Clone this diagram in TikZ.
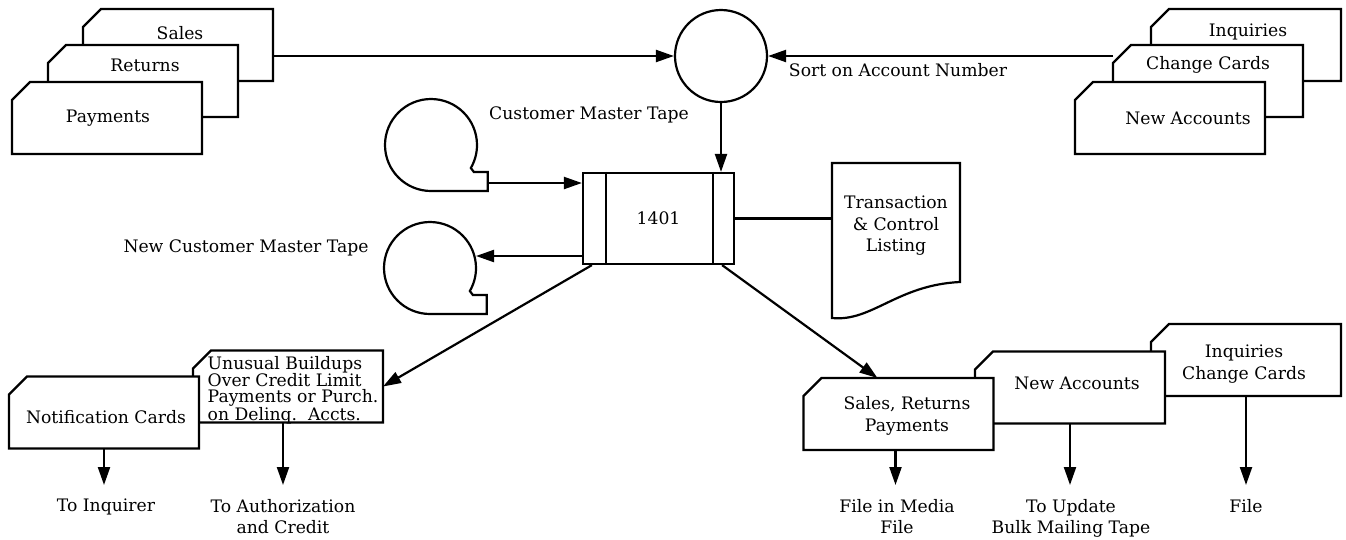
\documentclass[tikz,border=0pt]{standalone}
\usepackage{fontspec}
\setmainfont{DejaVu Serif}
\usetikzlibrary{arrows.meta}

\tikzset{
  flow/.style={-{Triangle[length=18pt,width=12pt]}},
  card/.style={minimum width=190pt, minimum height=72pt, inner sep=0pt, outer sep=0pt},
  tape/.style={circle, minimum size=92pt, inner sep=0pt, outer sep=0pt},
  lbl/.style={align=center, inner sep=1pt},
}
% punched card outline, cut at the upper left corner
\newcommand{\cardline}[1]{%
  \filldraw[fill=white] (#1.south west) -- ([yshift=-18pt]#1.north west)
    -- ([xshift=18pt]#1.north west) -- (#1.north east) -- (#1.south east) -- cycle;}

\begin{document}
\begin{tikzpicture}[x=1pt, y=-1pt, line width=2.2pt, font=\fontsize{17.2}{21.5}\selectfont]
  \useasboundingbox (0,0) rectangle (1346,539);

  % input cards
  \node[card] (sal) at (178,45) {}; \cardline{sal}
  \node[lbl] (salt) at (180,33) {Sales};
  \node[card] (ret) at (143,81) {}; \cardline{ret}
  \node[lbl] (rett) at (145,65) {Returns};
  \node[card] (pay) at (107,118) {}; \cardline{pay}
  \node[lbl] (payt) at (108,118) {Payments};

  \node[card] (inq) at (1246,45) {}; \cardline{inq}
  \node[lbl] (inqt) at (1248,32) {Inquiries};
  \node[card] (chg) at (1208,81) {}; \cardline{chg}
  \node[lbl] (chgt) at (1208,65) {Change Cards};
  \node[card] (nac) at (1170,118) {}; \cardline{nac}
  \node[lbl] (nact) at (1188,118) {New Accounts};

  % sort
  \node[draw, circle, minimum size=92pt, inner sep=0pt] (srt) at (721,56) {};
  \node[lbl] (srtl) at (898,70) {Sort on Account Number};
  \draw[flow] (sal.east |- srt.west) -- (srt.west);
  \draw[flow] (chg.west |- srt.east) -- (srt.east);

  % computer run
  \node[draw, minimum width=151pt, minimum height=91pt] (cpu) at (658.5,218.5) {1401};
  \draw ([xshift=24pt]cpu.north west) -- ([xshift=24pt]cpu.south west);
  \draw ([xshift=-22pt]cpu.north east) -- ([xshift=-22pt]cpu.south east);
  \draw[flow] (srt.south) -- (srt.south |- cpu.north);

  % tapes
  \node[tape] (cmt) at (431,145) {};
  \draw (cmt.south) arc[start angle=90, end angle=390, radius=46] -- ++(3,4) -- ++(14,0) |- (cmt.south);
  \node[lbl] (cmtl) at (589,115) {Customer Master Tape};
  \coordinate (cmtout) at ([xshift=57pt,yshift=8pt]cmt.south);
  \draw[flow] (cmtout) -- (cmtout -| cpu.west);

  \node[tape] (ncm) at (430,268) {};
  \draw (ncm.south) arc[start angle=90, end angle=390, radius=46] -- ++(3,4) -- ++(14,0) |- (ncm.south);
  \node[lbl] (ncml) at (246,248) {New Customer Master Tape};
  \coordinate (ncmin) at ([yshift=12pt]ncm.east);
  \draw[flow] (ncmin -| cpu.west) -- (ncmin);

  % listing
  \draw (832,318) .. controls (872,322) and (897,285) .. (960,282) -- (960,163) -- (832,163) -- cycle;
  \node[lbl, minimum width=128pt] (lst) at (896,226) {Transaction\\\& Control\\Listing};
  \draw (cpu.east) -- (cpu.east -| lst.west);

  % output cards, left
  \node[card] (unu) at (288,386.5) {}; \cardline{unu}
  \node[lbl, align=left, font=\fontsize{17.2}{15.5}\selectfont] (unut) at (293,390)
    {Unusual Buildups\\Over Credit Limit\\Payments or Purch.\\on Delinq.\ \ Accts.};
  \node[card] (ntf) at (104,412.5) {}; \cardline{ntf}
  \node[lbl] (ntft) at (106,417) {Notification Cards};
  \draw[flow] ([xshift=10pt]cpu.south west) -- (unu.east);

  % output cards, right
  \node[card] (icc) at (1246,360) {}; \cardline{icc}
  \node[lbl] (icct) at (1244,364) {Inquiries\\Change Cards};
  \node[card] (nab) at (1070,387.5) {}; \cardline{nab}
  \node[lbl] (nabt) at (1077,383) {New Accounts};
  \node[card] (srp) at (898.5,414) {}; \cardline{srp}
  \node[lbl] (srpt) at (907,416) {Sales,\ Returns\\Payments};
  \draw[flow] ([xshift=-13pt]cpu.south east) -- ([xshift=-21pt]srp.north);

  % where the cards go
  \node[lbl, anchor=north] (toinq) at (106,497) {To Inquirer};
  \node[lbl, anchor=north] (toaut) at (283,497) {To Authorization\\and Credit};
  \node[lbl, anchor=north] (tomed) at (897,497) {File in Media\\File};
  \node[lbl, anchor=north] (toupd) at (1071,497) {To Update\\Bulk Mailing Tape};
  \node[lbl, anchor=north] (tofil) at (1246,497) {File};
  \draw[flow, shorten >=12pt] (ntf.south) -- (ntf.south |- toinq.north);
  \draw[flow, shorten >=12pt] ([xshift=-5pt]unu.south) -- ([xshift=-5pt]unu.south |- toaut.north);
  \draw[flow, shorten >=12pt] ([xshift=-3pt]srp.south) -- ([xshift=-3pt]srp.south |- tomed.north);
  \draw[flow, shorten >=12pt] (nab.south) -- (nab.south |- toupd.north);
  \draw[flow, shorten >=12pt] (icc.south) -- (icc.south |- tofil.north);
\end{tikzpicture}
\end{document}
